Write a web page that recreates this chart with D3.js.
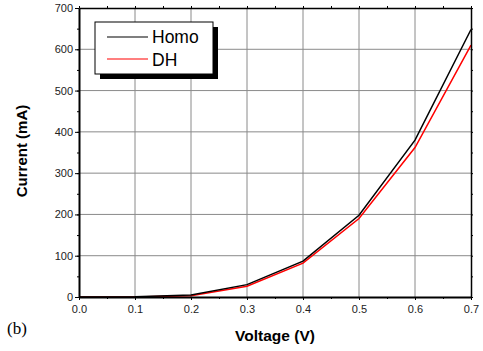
<!DOCTYPE html>
<html><head><meta charset="utf-8">
<script src="https://cdn.jsdelivr.net/npm/d3@7"></script>
<style>body{margin:0;background:#fff}svg{display:block}</style>
</head><body>
<script>
const voltage = [0.0, 0.1, 0.2, 0.3, 0.4, 0.5, 0.6, 0.7];
const homo = [0, 0.5, 5, 30, 87, 198, 380, 648];
const dh = [0, 0, 3, 26, 82, 190, 362, 610];
const seriesNames = ["Homo", "DH"];
const xTicks = [0.0, 0.1, 0.2, 0.3, 0.4, 0.5, 0.6, 0.7];
const yTicks = [0, 100, 200, 300, 400, 500, 600, 700];

(function () {
const W = 483, H = 351;
const m = {l: 79, r: 12, t: 8, b: 54};
const svg = d3.select("body").append("svg").attr("width", W).attr("height", H);
const x = d3.scaleLinear().domain([0, 0.7]).range([m.l, W - m.r]);
const y = d3.scaleLinear().domain([0, 700]).range([H - m.b, m.t]);
const font = "Arial, 'Liberation Sans', sans-serif";

// grid
const g = svg.append("g");
g.selectAll(".gx").data(xTicks.slice(1, -1)).join("line")
  .attr("x1", d => x(d)).attr("x2", d => x(d)).attr("y1", y(0)).attr("y2", y(700))
  .attr("stroke", "#8a8a8a").attr("stroke-width", 1);
g.selectAll(".gy").data(yTicks.slice(1, -1)).join("line")
  .attr("x1", x(0)).attr("x2", x(0.7)).attr("y1", d => y(d)).attr("y2", d => y(d))
  .attr("stroke", "#8a8a8a").attr("stroke-width", 1);

// lines
const line = (vals) => d3.line().x((d, i) => x(voltage[i])).y(d => y(d))(vals);
svg.append("path").attr("d", line(dh)).attr("fill", "none").attr("stroke", "#ff0000").attr("stroke-width", 1.5);
svg.append("path").attr("d", line(homo)).attr("fill", "none").attr("stroke", "#000").attr("stroke-width", 1.5);

// axes
const minorX = d3.range(0, 15).map(i => i * 0.05);
const minorY = d3.range(0, 15).map(i => i * 50);
const axB = svg.append("g").attr("transform", `translate(0,${y(0)})`)
  .call(d3.axisBottom(x).tickValues(xTicks).tickFormat(d3.format(".1f")).tickSize(3).tickSizeOuter(0));
const axL = svg.append("g").attr("transform", `translate(${x(0)},0)`)
  .call(d3.axisLeft(y).tickValues(yTicks).tickFormat(d3.format("d")).tickSize(4).tickSizeOuter(0));
const axT = svg.append("g").attr("transform", `translate(0,${y(700)})`)
  .call(d3.axisTop(x).tickValues(minorX).tickFormat("").tickSize(2).tickSizeOuter(0));
const axR = svg.append("g").attr("transform", `translate(${x(0.7)},0)`)
  .call(d3.axisRight(y).tickValues(minorY).tickFormat("").tickSize(2).tickSizeOuter(0));
svg.append("g").attr("transform", `translate(0,${y(0)})`)
  .call(d3.axisBottom(x).tickValues(minorX).tickFormat("").tickSize(2).tickSizeOuter(0));
svg.append("g").attr("transform", `translate(${x(0)},0)`)
  .call(d3.axisLeft(y).tickValues(minorY).tickFormat("").tickSize(2).tickSizeOuter(0));

svg.selectAll(".domain").attr("stroke", "#000");
axB.select(".domain").attr("stroke-width", 2);
axL.select(".domain").attr("stroke-width", 2);
axT.select(".domain").attr("stroke-width", 1.5);
axR.select(".domain").attr("stroke-width", 1.5);
svg.selectAll(".tick line").attr("stroke", "#000");
svg.selectAll(".tick text").attr("font-family", font).attr("font-size", 11).attr("fill", "#222");
axB.selectAll(".tick text").attr("dy", "0.9em");
axL.selectAll(".tick text").attr("x", -6);

// titles
svg.append("text").attr("x", (x(0) + x(0.7)) / 2).attr("y", 341).attr("text-anchor", "middle")
  .attr("font-family", font).attr("font-weight", "bold").attr("font-size", 15.5).text("Voltage (V)");
svg.append("text").attr("transform", `translate(27,151) rotate(-90)`).attr("text-anchor", "middle")
  .attr("font-family", font).attr("font-weight", "bold").attr("font-size", 15).text("Current (mA)");
svg.append("text").attr("x", 7).attr("y", 334).attr("font-family", "'Times New Roman','Liberation Serif',serif")
  .attr("font-size", 17).text("(b)");

// legend
const lg = svg.append("g");
lg.append("rect").attr("x", 100).attr("y", 27).attr("width", 118).attr("height", 52).attr("fill", "#000");
lg.append("rect").attr("x", 95).attr("y", 22).attr("width", 118).attr("height", 52).attr("fill", "#fff").attr("stroke", "#000").attr("stroke-width", 1);
const colors = ["#000", "#ff0000"];
seriesNames.forEach((n, i) => {
  const yy = 37 + i * 22;
  lg.append("line").attr("x1", 107).attr("x2", 148).attr("y1", yy).attr("y2", yy).attr("stroke", colors[i]).attr("stroke-width", 1.2);
  lg.append("text").attr("x", 152).attr("y", 43 + i * 23).attr("font-family", font).attr("font-size", 17.5).text(n);
});
})();
</script>
</body></html>
